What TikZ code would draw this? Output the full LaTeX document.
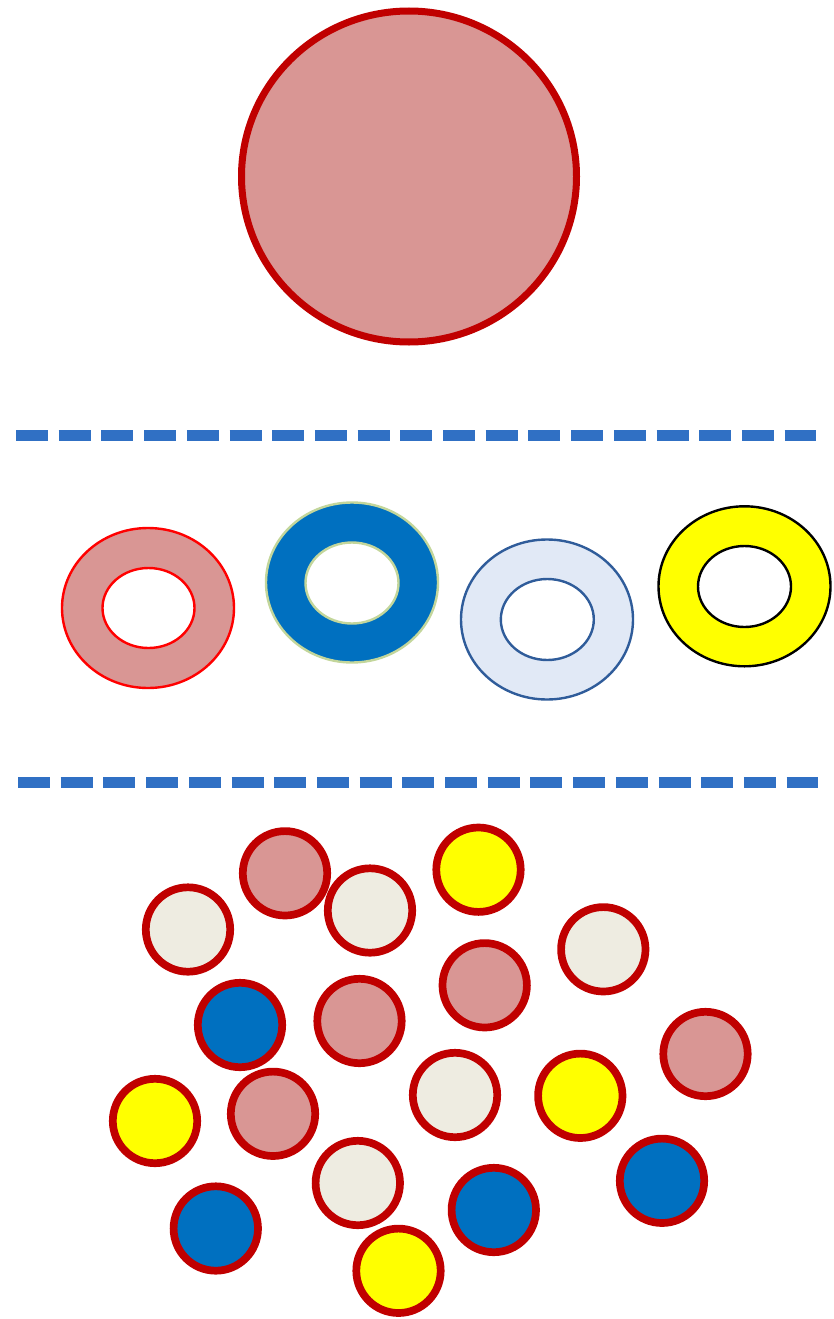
\documentclass[tikz,border=0pt]{standalone}
\usepackage{tikz}
\definecolor{pinkfill}{HTML}{D99694}
\definecolor{darkred}{HTML}{C00000}
\definecolor{bluefill}{HTML}{0070C0}
\definecolor{beige}{HTML}{EEECE1}
\definecolor{lightblue}{HTML}{E1E9F6}
\definecolor{ringblue}{HTML}{2F5C9A}
\definecolor{ringgreen}{HTML}{C3D69B}
\definecolor{dashblue}{HTML}{3070C4}
\definecolor{pureyellow}{HTML}{FFFF00}
\definecolor{purered}{HTML}{FF0000}
\tikzset{
  sep/.style={draw=dashblue, line width=10.7pt, dash pattern=on 32pt off 10.7pt},
  dot/.style={draw=darkred, line width=7.7pt},
  ring/.style={even odd rule, line width=2.4pt},
}
\begin{document}
\begin{tikzpicture}[x=1pt,y=-1pt]
\useasboundingbox (0,0) rectangle (833,1319);
% big circle
\draw[fill=pinkfill, draw=darkred, line width=7pt] (409,176.5) ellipse [x radius=167.5, y radius=165.5];
% separators
\draw[sep] (16,435.3) -- (816,435.3);
\draw[sep] (18,782.5) -- (818,782.5);
% rings
\draw[ring, fill=pinkfill, draw=purered] (148,608) ellipse [x radius=86, y radius=80] (148.5,608) ellipse [x radius=46, y radius=40];
\draw[ring, fill=bluefill, draw=ringgreen] (352,582.5) ellipse [x radius=86, y radius=80] (352,583) ellipse [x radius=46.5, y radius=40.5];
\draw[ring, fill=lightblue, draw=ringblue] (547,619.5) ellipse [x radius=86, y radius=80] (547.3,619.5) ellipse [x radius=46.5, y radius=40.5];
\draw[ring, fill=pureyellow, draw=black] (744.5,586.3) ellipse [x radius=86, y radius=80] (744.5,586.5) ellipse [x radius=46.5, y radius=40.5];
% small circles
\foreach \x/\y/\c in {
  285/873.3/pinkfill, 188/929.5/beige, 370/910.5/beige, 478.5/869.7/pureyellow,
  603.3/949.3/beige, 484.7/985.3/pinkfill, 240/1025/bluefill, 359.5/1021/pinkfill,
  705.5/1054/pinkfill, 155/1121/pureyellow, 273/1113.8/pinkfill, 455/1095/beige,
  580.3/1095.8/pureyellow, 662/1180.8/bluefill, 357.8/1183/beige, 493.8/1210/bluefill,
  215.8/1228.5/bluefill, 398.5/1270.8/pureyellow}
  \draw[dot, fill=\c] (\x,\y) circle [radius=42.2];
\end{tikzpicture}
\end{document}
